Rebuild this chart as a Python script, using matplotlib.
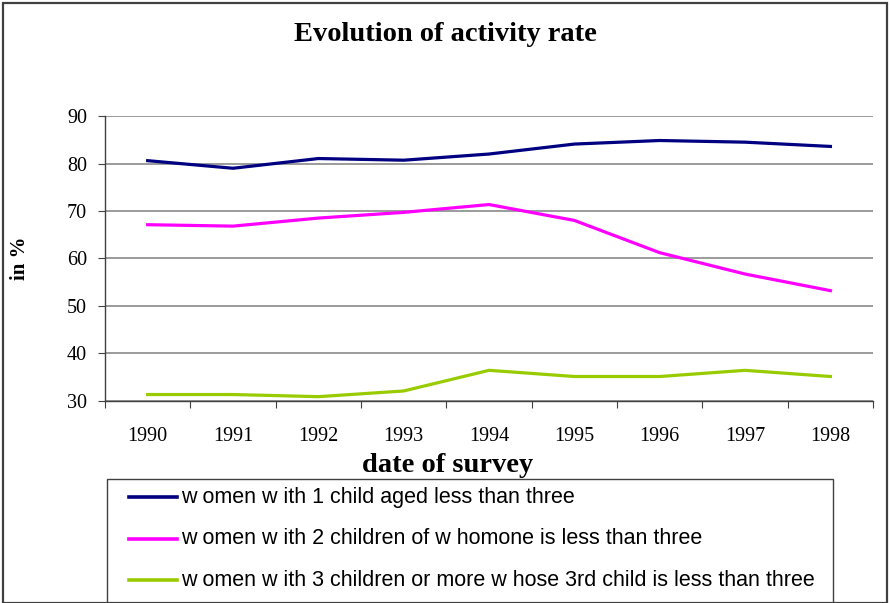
import matplotlib.pyplot as plt
from matplotlib.lines import Line2D
from matplotlib.patches import Rectangle

years = ["1990", "1991", "1992", "1993", "1994", "1995", "1996", "1997", "1998"]
one_child = [80.6, 79.0, 81.05, 80.7, 82.0, 84.1, 84.85, 84.5, 83.6]
two_children = [67.1, 66.8, 68.5, 69.7, 71.35, 68.0, 61.2, 56.7, 53.2]
three_children = [31.3, 31.3, 30.85, 32.05, 36.4, 35.1, 35.1, 36.4, 35.1]

labels = ["w omen w ith 1 child aged less than three",
          "w omen w ith 2 children of w homone is less than three",
          "w omen w ith 3 children or more w hose 3rd child is less than three"]
colors = ["#000080", "#FF00FF", "#99CC00"]
yticks = [30, 40, 50, 60, 70, 80, 90]

serif = "Liberation Serif"
sans = "Liberation Sans"

fig = plt.figure(figsize=(8.9, 6.03), dpi=100)
# outer frame
fig.add_artist(Rectangle((0.003, 0.0), 0.994, 0.995, transform=fig.transFigure,
                         fill=False, edgecolor="#404040", linewidth=1.6))

ax = fig.add_axes([0.118, 0.3355, 0.863, 0.472])
x = range(len(years))
for vals, c in zip([one_child, two_children, three_children], colors):
    ax.plot(x, vals, color=c, linewidth=2.3, solid_joinstyle="miter")

ax.set_xlim(-0.5, len(years) - 0.5)
ax.set_ylim(30, 90)
ax.set_yticks(yticks)
ax.set_yticklabels([str(v) for v in yticks], fontfamily=serif, fontsize=14.5)
ax.set_xticks([i + 0.5 for i in range(-1, len(years))])
ax.set_xticklabels([])
ax.set_xticks(list(x), minor=True)
ax.set_xticklabels(years, minor=True, fontfamily=serif, fontsize=14.5)
ax.tick_params(axis="x", which="minor", length=0, pad=19)
ax.tick_params(axis="x", which="major", direction="out", length=5, color="#404040")
ax.tick_params(axis="y", direction="out", length=5, color="#404040", pad=8)

ax.yaxis.grid(True, color="#808080", linewidth=1.1)
ax.set_axisbelow(True)
for s in ["top", "right"]:
    ax.spines[s].set_visible(False)
for s in ["left", "bottom"]:
    ax.spines[s].set_color("#404040")
    ax.spines[s].set_linewidth(1.0)

fig.text(20 / 890, 1 - 258 / 603, "in %", ha="center", va="center", rotation=90,
         fontfamily=serif, fontweight="bold", fontsize=15)
fig.text(448 / 890, 1 - 465 / 603, "date of survey", ha="center", va="center",
         fontfamily=serif, fontweight="bold", fontsize=20.5)
fig.text(0.501, 0.942, "Evolution of activity rate", ha="center", va="center",
         fontfamily=serif, fontweight="bold", fontsize=20.5)

# legend box
fig.add_artist(Rectangle((107 / 890, -0.01), 726 / 890, 1 - 479 / 603 + 0.01,
                         transform=fig.transFigure, fill=False,
                         edgecolor="#404040", linewidth=1.0))
for i, (lab, c) in enumerate(zip(labels, colors)):
    yy = 1 - (497 + 41.5 * i) / 603
    fig.add_artist(Line2D([129 / 890, 177 / 890], [yy, yy], transform=fig.transFigure,
                          color=c, linewidth=2.6))
    fig.text(181 / 890, yy, lab, ha="left", va="center", fontfamily=sans, fontsize=15.5)

fig.savefig("out.png", dpi=100)
